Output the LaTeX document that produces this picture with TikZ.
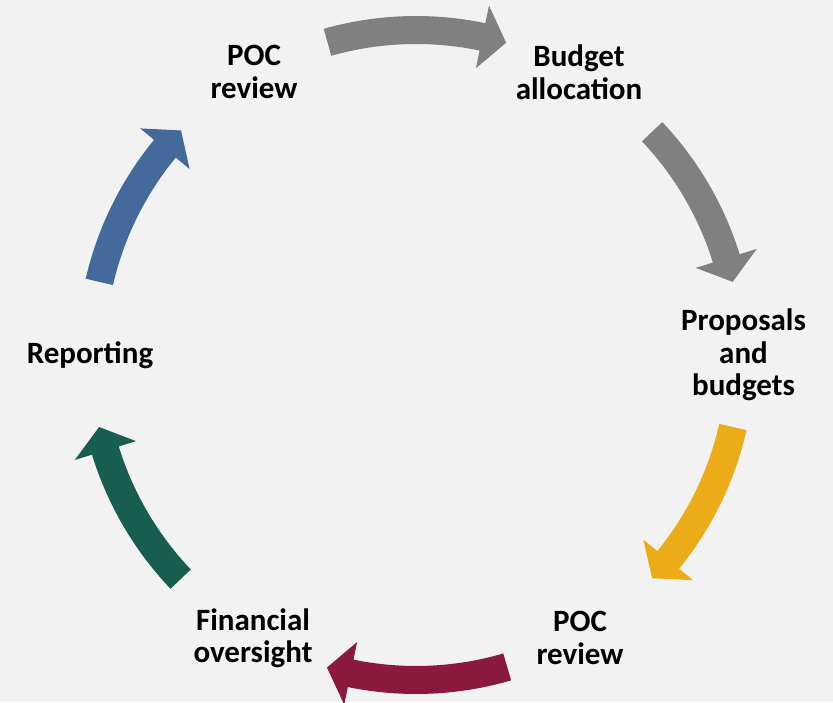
\documentclass[tikz,border=0pt]{standalone}
\usepackage{fontspec}
\setmainfont{Carlito}
\definecolor{bgcol}{HTML}{F2F2F2}
\definecolor{cgray}{HTML}{808080}
\definecolor{cyellow}{HTML}{EBAC18}
\definecolor{cred}{HTML}{8B183D}
\definecolor{cgreen}{HTML}{175D50}
\definecolor{cblue}{HTML}{44699B}
% curved block arrow on the cycle: colour, tail angle, tip angle
\newcommand\cyclearrow[3]{%
  \pgfmathsetmacro\headbase{#3 + 4.3*sign(#2-#3)}%
  \fill[#1] (#2:339pt) arc[start angle=#2, end angle=\headbase, radius=339pt]
    -- (\headbase:357pt) -- (#3:325pt) -- (\headbase:293pt) -- (\headbase:311pt)
    arc[start angle=\headbase, end angle=#2, radius=311pt] -- cycle;}
\begin{document}
\begin{tikzpicture}[x=1pt,y=1pt,
  lbl/.style={font=\bfseries\fontsize{31}{32.5}\selectfont, align=center, text=black, inner sep=0pt}]
\fill[bgcol] (0,0) rectangle (833,702);
\useasboundingbox (0,0) rectangle (833,702);

% stage labels
\node[lbl] (poctop) at (254,630) {POC\\review};
\node[lbl] (budget) at (579,630) {Budget\\allocation};
\node[lbl] (proposals) at (743.5,347) {Proposals\\and\\budgets};
\node[lbl] (pocbottom) at (580,64) {POC\\review};
\node[lbl] (financial) at (253,64) {Financial\\oversight};
\node[lbl] (reporting) at (90,347) {Reporting};

% arrows around the cycle
\begin{scope}[shift={(416,347)}]
  \cyclearrow{cgray}{105.8}{73.9}
  \cyclearrow{cgray}{43.4}{13}
  \cyclearrow{cyellow}{-12.8}{-43.4}
  \cyclearrow{cred}{-73.7}{-105.9}
  \cyclearrow{cgreen}{-136.4}{-167.2}
  \cyclearrow{cblue}{167}{136.3}
\end{scope}
\end{tikzpicture}
\end{document}
